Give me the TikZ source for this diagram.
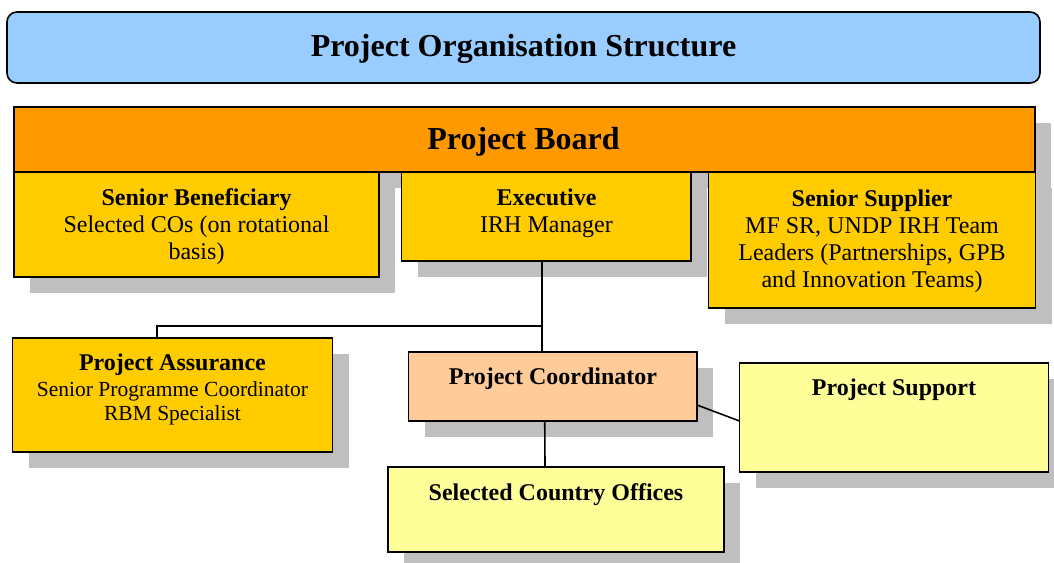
\documentclass[tikz,border=0pt]{standalone}
\usepackage{fontspec}
\setmainfont{Liberation Serif}
\usetikzlibrary{shadows}

\definecolor{titleblue}{HTML}{99CCFF}
\definecolor{boardorange}{HTML}{FF9900}
\definecolor{roleamber}{HTML}{FFCC00}
\definecolor{coordpeach}{HTML}{FFCC99}
\definecolor{paleyellow}{HTML}{FFFF99}
\definecolor{shadowgrey}{HTML}{BFBFBF}

\tikzset{
  box/.style={draw, line width=1.6pt, outer sep=0pt, inner sep=0pt, anchor=north west},
  shadowed/.style={drop shadow={shadow xshift=16pt, shadow yshift=-16pt, fill=shadowgrey, opacity=1}},
  rolebox/.style={box, shadowed, fill=roleamber},
  bigtext/.style={anchor=base, inner sep=0pt, font=\fontsize{32}{36}\selectfont\bfseries},
  % multi-line labels are placed by the baseline of their last line
  lbl/.style={anchor=base, align=center, inner sep=0pt, font=\fontsize{24}{27}\selectfont},
  smalllbl/.style={anchor=base, align=center, inner sep=0pt, font=\fontsize{21.5}{24}\selectfont},
  link/.style={draw, line width=1.6pt}
}

\begin{document}
\begin{tikzpicture}[x=1pt, y=-1pt]
\useasboundingbox (0,0) rectangle (1054,562);

% heading banner
\node[box, rounded corners=10pt, fill=titleblue, minimum width=1033pt, minimum height=71pt] (title) at (7,12) {};
\node[bigtext] (title-t) at (523.5,56) {Project Organisation Structure};

% board and its three roles
\node[box, shadowed, fill=boardorange, minimum width=1021pt, minimum height=65pt] (board) at (14,107) {};
\node[bigtext] (board-t) at (523.5,149) {Project Board};

\node[rolebox, minimum width=365pt, minimum height=105pt] (sb) at (14,172) {};
\node[lbl] (sb-t) at (196.5,259.5) {\textbf{Senior Beneficiary}\\Selected COs (on rotational\\basis)};

\node[rolebox, minimum width=289.5pt, minimum height=89pt] (exec) at (401.5,172) {};
\node[lbl] (exec-t) at (546.5,232.5) {\textbf{Executive}\\IRH Manager};

\node[rolebox, minimum width=327pt, minimum height=136pt] (ss) at (708.5,172) {};
\node[lbl] (ss-t) at (872,287) {\textbf{Senior Supplier}\\MF SR, UNDP IRH Team\\Leaders (Partnerships, GPB\\and Innovation Teams)};

% management level
\node[rolebox, minimum width=320pt, minimum height=114pt] (pa) at (12.5,338) {};
\node[lbl] (pa-t) at (172.5,370) {\textbf{Project Assurance}};
\node[smalllbl] (pa-s) at (172.5,420) {Senior Programme Coordinator\\RBM Specialist};

\node[box, shadowed, fill=coordpeach, minimum width=288.5pt, minimum height=69pt] (pc) at (408.5,352) {};
\node[lbl, font=\fontsize{24}{27}\selectfont\bfseries] (pc-t) at (553,384) {Project Coordinator};

\node[box, shadowed, fill=paleyellow, minimum width=309pt, minimum height=109pt] (ps) at (739.5,363) {};
\node[lbl, font=\fontsize{24}{27}\selectfont\bfseries] (ps-t) at (894,395) {Project Support};

\node[box, shadowed, fill=paleyellow, minimum width=336pt, minimum height=85pt] (sco) at (388,467) {};
\node[lbl, font=\fontsize{24}{27}\selectfont\bfseries] (sco-t) at (556,500.5) {Selected Country Offices};

% reporting lines
\coordinate (jn) at (542,326);
\path[link] (exec.south -| jn) -- (pc.north -| jn);
\path[link] (jn) -| ([xshift=-15.5pt]pa.north);
\path[link] ([xshift=-8pt]pc.south) -- ([xshift=-11pt]sco.north);
\path[link] ([yshift=-18.5pt]pc.east) -- ([yshift=-3.5pt]ps.west);
\end{tikzpicture}
\end{document}
